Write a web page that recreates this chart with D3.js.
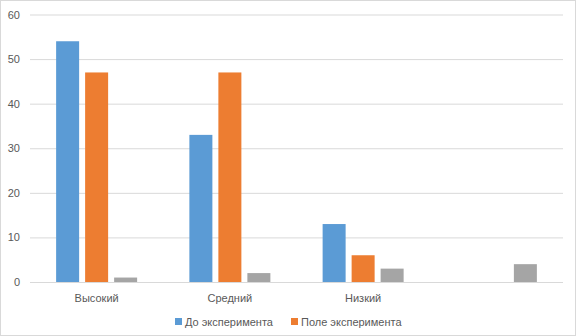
<!DOCTYPE html>
<html><head><meta charset="utf-8">
<script src="https://cdn.jsdelivr.net/npm/d3@7"></script>
<style>body{margin:0;background:#fff}svg{display:block}text{font-family:"Liberation Sans",Arial,sans-serif;fill:#595959}</style>
</head><body>
<svg id="c" width="576" height="336"></svg>
<script>
const categories = ["Высокий", "Средний", "Низкий", ""];
const seriesNames = ["До эксперимента", "Поле эксперимента", ""];
const before = [54, 33, 13, null];
const after = [47, 47, 6, null];
const third = [1, 2, 3, 4];
const yTicks = [0, 10, 20, 30, 40, 50, 60];
const colors = ["#5B9BD5", "#ED7D31", "#A5A5A5"];

(function(){
const svg = d3.select("#c");
svg.append("rect").attr("x",0.5).attr("y",0.5).attr("width",575).attr("height",335)
  .attr("fill","#fff").attr("stroke","#D9D9D9");

const mLeft = 30, mRight = 563, mTop = 14.5, mBottom = 282;
const x = d3.scaleBand().domain(categories.map((c,i)=>i)).range([mLeft,mRight]).paddingInner(0).paddingOuter(0);
const y = d3.scaleLinear().domain([0,60]).range([mBottom, mTop]);
const barW = 23, gap = 6;
const xs = d3.scaleBand().domain([0,1,2]).range([-(barW*3+gap*2)/2, (barW*3+gap*2)/2]).paddingInner(gap/(barW+gap)).paddingOuter(0);

const yAxis = d3.axisLeft(y).tickValues(yTicks).tickSize(-(mRight-mLeft)).tickPadding(10);
const g = svg.append("g").attr("transform",`translate(${mLeft},0)`).call(yAxis);
g.select(".domain").remove();
g.selectAll(".tick line").attr("stroke","#D9D9D9").attr("stroke-width",1);
g.selectAll(".tick text").attr("font-size",11).style("fill","#595959").attr("font-family","Liberation Sans, Arial, sans-serif");

const series = [before, after, third];
series.forEach((vals, si) => {
  svg.append("g").selectAll("rect").data(vals.map((v,i)=>({v,i})).filter(d=>d.v!=null))
    .join("rect")
    .attr("x", d => x(d.i) + x.bandwidth()/2 + xs(si))
    .attr("width", xs.bandwidth())
    .attr("y", d => y(d.v))
    .attr("height", d => y(0) - y(d.v))
    .attr("fill", colors[si]);
});

const xAxis = d3.axisBottom(x).tickFormat(i=>categories[i]).tickSize(0).tickPadding(12);
const gx = svg.append("g").attr("transform",`translate(0,${mBottom})`).call(xAxis);
gx.select(".domain").remove();
gx.selectAll(".tick text").attr("font-size",11).style("fill","#595959").attr("font-family","Liberation Sans, Arial, sans-serif");

const legend = [{n:seriesNames[0],c:colors[0],x:175},{n:seriesNames[1],c:colors[1],x:291}];
const lg = svg.append("g");
legend.forEach(l=>{
  lg.append("rect").attr("x",l.x).attr("y",318).attr("width",7).attr("height",7).attr("fill",l.c);
  lg.append("text").attr("x",l.x+10).attr("y",326).attr("font-size",11).text(l.n);
});
})();
</script>
</body></html>
